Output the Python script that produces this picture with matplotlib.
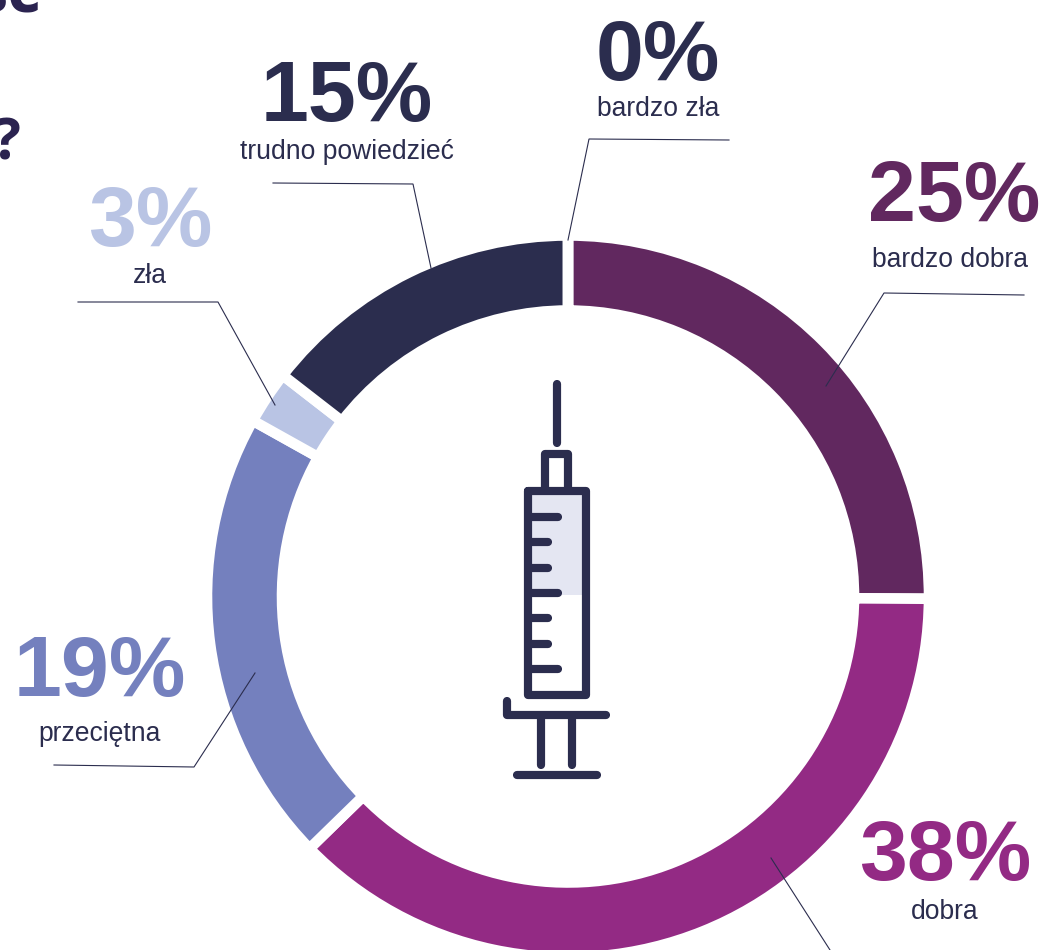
import matplotlib
matplotlib.use("Agg")
import matplotlib.pyplot as plt
from matplotlib.patches import Rectangle

plt.rcParams['font.family'] = ['Liberation Sans', 'DejaVu Sans']

W, H = 1043, 950
categories = ["bardzo dobra", "dobra", "przeciętna", "zła", "trudno powiedzieć", "bardzo zła"]
percent_labels = ["25%", "38%", "19%", "3%", "15%", "0%"]
values = [25.1, 37.6, 20.4, 2.4, 14.5, 0]
colors = ["#61285F", "#932A84", "#7480BE", "#B9C4E4", "#2B2D4E", "#2B2D4E"]
text_colors = ["#61285F", "#932A84", "#7480BE", "#B9C4E4", "#2B2D4E", "#2B2D4E"]
dark = "#2B2D4E"

fig = plt.figure(figsize=(W / 100, H / 100), dpi=100, facecolor="white")
ax = fig.add_axes([0, 0, 1, 1])
Y = lambda y: H - y

# donut
ax.pie(values, colors=colors, startangle=90, counterclock=False,
       center=(568, Y(596.5)), radius=361, frame=True,
       wedgeprops=dict(width=75, edgecolor="white", linewidth=7.6))
ax.set_xlim(0, W)
ax.set_ylim(0, H)
ax.set_aspect("auto")
ax.axis("off")

# labels: x centre, number baseline, label baseline
big_pos = [(954, 221), (945, 880), (100, 696), (150, 246), (347, 121), (658, 80)]
small_pos = [(950, 267), (945, 919), (100, 741), (150, 283), (347, 159), (658, 116)]
for pct, cat, col, (bx, by), (sx, sy) in zip(percent_labels, categories, text_colors, big_pos, small_pos):
    ax.text(bx, Y(by), pct, color=col, fontsize=62, fontweight="bold", ha="center", va="baseline")
    ax.text(sx, Y(sy), cat, color=dark, fontsize=19.1, ha="center", va="baseline")

# leader lines
leaders = [
    [(1024, 295), (884, 293), (826, 386)],
    [(771, 858), (830, 950)],
    [(54, 765), (194, 767), (255, 673)],
    [(78, 302), (218, 302), (275, 405)],
    [(273, 183), (413, 184), (431, 268)],
    [(729, 140), (589, 139), (568, 240)],
]
for pts in leaders:
    ax.plot([p[0] for p in pts], [Y(p[1]) for p in pts], color=dark, lw=0.8, solid_joinstyle="miter", zorder=5)

# syringe icon
ax.add_patch(Rectangle((531, Y(595)), 51, 100, facecolor="#E4E6F2", edgecolor="none", zorder=3))
lw = 5.9
def stroke(pts, cap="round", join="round"):
    ax.plot([p[0] for p in pts], [Y(p[1]) for p in pts], color=dark, lw=lw,
            solid_capstyle=cap, solid_joinstyle=join, zorder=4)
stroke([(556.5, 384), (556.5, 443)])
stroke([(545, 491), (545, 453.5), (568, 453.5), (568, 491)])
stroke([(527.5, 491), (585.5, 491), (585.5, 695), (527.5, 695), (527.5, 491)])
for y, x2 in [(517, 558), (542, 548), (568, 548), (593, 558), (618, 548), (644, 548), (669, 558)]:
    stroke([(527.5, y), (x2, y)])
stroke([(507, 701), (507, 715), (606, 715)])
stroke([(541, 715), (541, 765)])
stroke([(572, 715), (572, 765)])
stroke([(517, 775), (597, 775)])

# fragments of the cropped heading
ax.text(41, Y(12), "ść", color="#2B2350", fontsize=47, fontweight="bold", ha="right", va="baseline",
        family=["Open Sans", "DejaVu Sans"])
ax.text(21, Y(160), "?", color="#2B2350", fontsize=42, fontweight="bold", ha="right", va="baseline",
        family=["Open Sans", "DejaVu Sans"])

fig.savefig("out.png", dpi=100, facecolor="white")
